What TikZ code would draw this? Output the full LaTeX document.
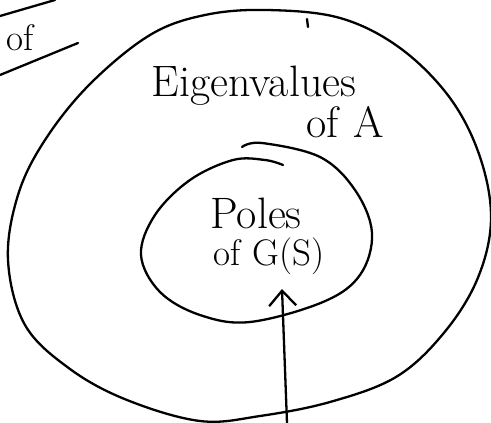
\documentclass[tikz,border=0pt]{standalone}
\usetikzlibrary{arrows.meta}
\begin{document}
\begin{tikzpicture}[x=1pt,y=-1pt,
  pen/.style={line width=2.3pt,line cap=round,line join=round},
  bigtext/.style={inner sep=0pt,font=\fontsize{44}{48}\selectfont},
  midtext/.style={inner sep=0pt,font=\fontsize{37}{40}\selectfont}]
\useasboundingbox (0,0) rectangle (491,423);
% outer closed curve
\draw[pen] plot[smooth cycle,tension=0.6] coordinates {
 (267,10) (340,18) (400,48) (450,98) (480,157) (491,220) (477,280)
 (443,334) (396,377) (330,402) (260,416) (200,421) (127,400) (70,369)
 (25,325) (8,260) (18,195) (45,140) (90,84) (150,35) (205,15)};
% small mark on top
\coordinate (tickA) at (307,19);
\coordinate (tickB) at (308,27);
\draw[pen] (tickA) -- (tickB);
% inner curve (overlapping ends)
\draw[pen] plot[smooth,tension=0.6] coordinates {
 (242,147) (262,143) (320,157) (355,190) (372,233) (360,275) (323,302)
 (250,322) (200,315) (160,292) (141,255) (155,215) (190,180) (233,160)
 (265,160) (283,165)};
% top-left fragment
\coordinate (l1a) at (0,16);
\coordinate (l1b) at (55,0);
\coordinate (l2a) at (0,75);
\coordinate (l2b) at (78,43);
\draw[pen] (l1a) -- (l1b);
\draw[pen] (l2a) -- (l2b);
\node[midtext,anchor=base] (ofleft) at (20,50) {of};
% labels
\node[bigtext,anchor=base] (eig) at (254,96) {Eigenvalues};
\node[bigtext,anchor=base] (ofA) at (345,137) {of\,\,A};
\node[bigtext,anchor=base] (poles) at (256,228) {Poles};
\node[midtext,anchor=base] (ofG) at (269,265) {of G(S)};
% arrow
\coordinate (foot) at (287,423);
\coordinate (tip) at (282,289);
\draw[pen,-{Straight Barb[length=15pt,width=27pt]}] (foot) -- (tip);
\end{tikzpicture}
\end{document}
